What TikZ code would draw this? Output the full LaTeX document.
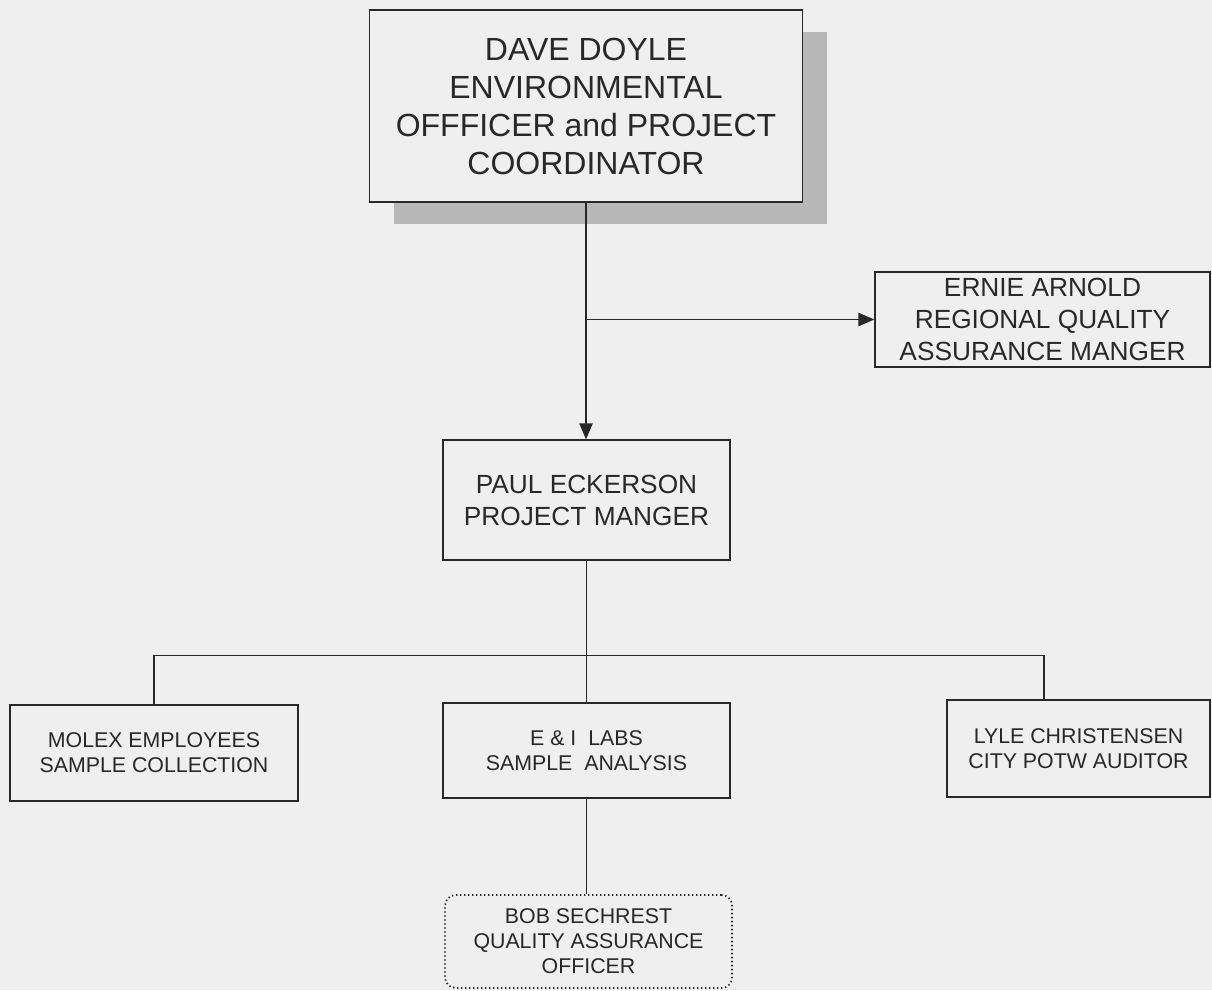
\documentclass[tikz,border=0pt]{standalone}
\usepackage{fontspec}
\setmainfont{Liberation Sans}
\usetikzlibrary{arrows.meta, shadows, calc, positioning}
\definecolor{paper}{RGB}{239,239,239}
\definecolor{ink}{RGB}{40,40,40}
\tikzset{
    post/.style={draw=ink, line width=1pt, fill=paper, align=center, inner sep=0pt, text=ink},
    bigpost/.style={post, font=\fontsize{24}{28.5}\selectfont},
    midpost/.style={post, font=\fontsize{19.7}{24}\selectfont},
    smallpost/.style={post, font=\fontsize{16}{18.8}\selectfont},
    link/.style={draw=ink, line width=1.1pt},
    arrowlink/.style={link, -{Triangle[length=12pt, width=10pt]}}
}
\newcommand{\orgpost}[6]{
    \node[#1, minimum width=#4*0.75pt, minimum height=#5*0.75pt] (#2) at (#3) {#6};
}
\begin{document}
\begin{tikzpicture}[x=0.75pt, y=-0.75pt]
                    \fill[paper] (0,0) rectangle (1212,990);
                    \useasboundingbox (0,0) rectangle (1212,990);
                    \orgpost{bigpost, drop shadow={shadow xshift=18.5pt, shadow yshift=-16.5pt, opacity=1, fill=black!28}}{doyle}{586,106}{433}{192}{DAVE DOYLE\\ENVIRONMENTAL\\OFFFICER and PROJECT\\COORDINATOR}
                    \orgpost{midpost}{arnold}{1042.5,319.5}{335}{95}{ERNIE ARNOLD\\REGIONAL QUALITY\\ASSURANCE MANGER}
                    \orgpost{midpost}{eckerson}{586.5,500}{287}{120}{PAUL ECKERSON\\PROJECT MANGER}
                    \orgpost{smallpost}{molex}{154,753}{288}{96}{MOLEX EMPLOYEES\\SAMPLE COLLECTION}
                    \orgpost{smallpost}{labs}{586.5,750.5}{287}{95}{E \& I\ \ LABS\\SAMPLE\ \ ANALYSIS}
                    \orgpost{smallpost}{lyle}{1078.5,748.5}{263}{97}{LYLE CHRISTENSEN\\CITY POTW AUDITOR}
                    \orgpost{smallpost, dotted, line width=1.3pt, rounded corners=8pt}{sechrest}{588.5,941.5}{287}{93}{BOB SECHREST\\QUALITY ASSURANCE\\OFFICER}
                    \coordinate (split) at (doyle.south |- arnold.west);
                    \coordinate (bus) at ($(eckerson.south) + (0,95)$);
                    \coordinate (lyletop) at ($(lyle.north west)!0.37!(lyle.north east)$);
                    \draw[arrowlink] (doyle.south) -- (doyle.south |- eckerson.north);
                    \draw[arrowlink] (split) -- (arnold.west);
                    \draw[link]
                    (eckerson.south) -- (bus)
                    (molex.north) |- (bus) -| (lyletop)
                    (bus) -- (labs.north)
                    (labs.south) -- (labs.south |- sechrest.north);
                \end{tikzpicture}
\end{document}
